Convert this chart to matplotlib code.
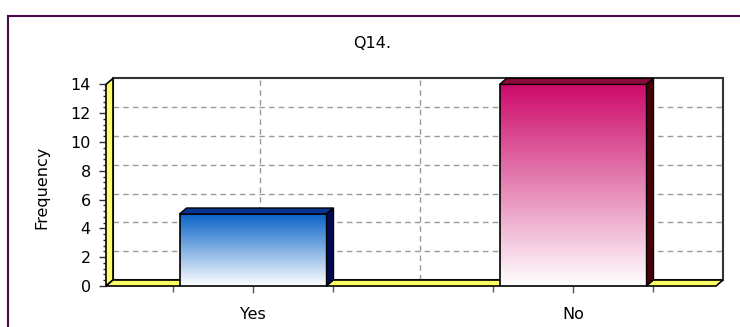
import numpy as np
import matplotlib
matplotlib.use("Agg")
import matplotlib.pyplot as plt
from matplotlib.patches import Polygon, Rectangle
from matplotlib.colors import LinearSegmentedColormap
from matplotlib.lines import Line2D

categories = ["Yes", "No"]
values = [5, 14]
front_colors = ["#0a64c8", "#cc0a6a"]
top_colors = ["#06358f", "#8e0a3c"]
side_colors = ["#000a55", "#4a0008"]
title = "Q14."
ylabel = "Frequency"
yticks = [0, 2, 4, 6, 8, 10, 12, 14]

plt.rcParams["font.family"] = ["DejaVu Sans"]
FS = 11.5

W, H = 740, 327
fig = plt.figure(figsize=(W / 100, H / 100), dpi=100)
fig.patch.set_facecolor("white")

# axes covering the front plane (pixel coords)
px_l, px_r, px_b, px_t = 106, 716, 286, 84.4
ax = fig.add_axes([px_l / W, (H - px_b) / H, (px_r - px_l) / W, (px_b - px_t) / H])
xl = -(253 - px_l) / 320
xr = 1 + (px_r - 573) / 320
ymax = 14
ax.set_xlim(xl, xr)
ax.set_ylim(0, ymax)
for s in ax.spines.values():
    s.set_visible(False)
ax.patch.set_alpha(0)

dxd = 7 * (xr - xl) / (px_r - px_l)
dyd = 6 * ymax / (px_b - px_t)

# back wall
ax.add_patch(Rectangle((xl + dxd, dyd), xr - xl, ymax, fc="white", ec="#333333",
                       lw=1.5, zorder=0, clip_on=False))
# grid
for y in yticks[1:-1]:
    ax.add_line(Line2D([xl + dxd, xr + dxd], [y + dyd, y + dyd], color="#9a9a9a",
                       lw=1, ls=(0, (4, 3)), zorder=1, clip_on=False))
for x in [0, 0.5, 1]:
    ax.add_line(Line2D([x + dxd, x + dxd], [dyd, ymax + dyd], color="#9a9a9a",
                       lw=1, ls=(0, (4, 3)), zorder=1, clip_on=False))
# left wall
ax.add_patch(Polygon([(xl, 0), (xl, ymax), (xl + dxd, ymax + dyd), (xl + dxd, dyd)],
                     closed=True, fc="#ffff66", ec="black", lw=1.2, zorder=2, clip_on=False))
# floor
ax.add_patch(Polygon([(xl, 0), (xr, 0), (xr + dxd, dyd), (xl + dxd, dyd)],
                     closed=True, fc="#ffff66", ec="black", lw=1.2, zorder=2, clip_on=False))

bw = 147 * (xr - xl) / (px_r - px_l)
grad = np.linspace(1, 0, 256).reshape(-1, 1)
for i, (c, v) in enumerate(zip(categories, values)):
    x0, x1 = i - bw / 2, i + bw / 2
    cmap = LinearSegmentedColormap.from_list("g", ["white", front_colors[i]])
    ax.imshow(grad, extent=(x0, x1, 0, v), cmap=cmap, aspect="auto", zorder=3,
              vmin=0, vmax=1, interpolation="bilinear")
    ax.add_patch(Rectangle((x0, 0), x1 - x0, v, fc="none", ec="black", lw=1.2, zorder=4))
    ax.add_patch(Polygon([(x0, v), (x1, v), (x1 + dxd, v + dyd), (x0 + dxd, v + dyd)],
                         closed=True, fc=top_colors[i], ec="black", lw=1, zorder=4, clip_on=False))
    ax.add_patch(Polygon([(x1, 0), (x1, v), (x1 + dxd, v + dyd), (x1 + dxd, dyd)],
                         closed=True, fc=side_colors[i], ec="black", lw=1, zorder=4, clip_on=False))

ax.set_xlim(xl, xr)
ax.set_ylim(0, ymax)

ax.set_yticks(yticks)
ax.set_yticklabels([str(t) for t in yticks], fontsize=FS)
ax.set_yticks(np.arange(0, 14.01, 0.4), minor=True)
ax.set_xticks(range(len(categories)))
ax.set_xticklabels(categories, fontsize=FS)
ax.set_xticks([-0.25, 0.25, 0.75, 1.25], minor=True)
ax.tick_params(axis="y", which="major", length=5, width=1, color="#333333", pad=6)
ax.tick_params(axis="y", which="minor", length=2.5, width=1, color="#333333")
ax.tick_params(axis="x", which="major", length=5, width=1, color="#555555", pad=10)
ax.tick_params(axis="x", which="minor", length=4, width=1, color="#555555")

fig.text(42 / W, 1 - 187 / H, ylabel, rotation=90, ha="center", va="center", fontsize=FS)
fig.text(372 / W, 1 - 44 / H, title, ha="center", va="center", fontsize=FS)

# outer purple border
fig.add_artist(Line2D([8 / W, 1], [1 - 16 / H, 1 - 16 / H], transform=fig.transFigure,
                      color="#4a0a4a", lw=1.5))
fig.add_artist(Line2D([8 / W, 8 / W], [0, 1 - 16 / H], transform=fig.transFigure,
                      color="#4a0a4a", lw=1.5))

fig.savefig("out.png", dpi=100)
